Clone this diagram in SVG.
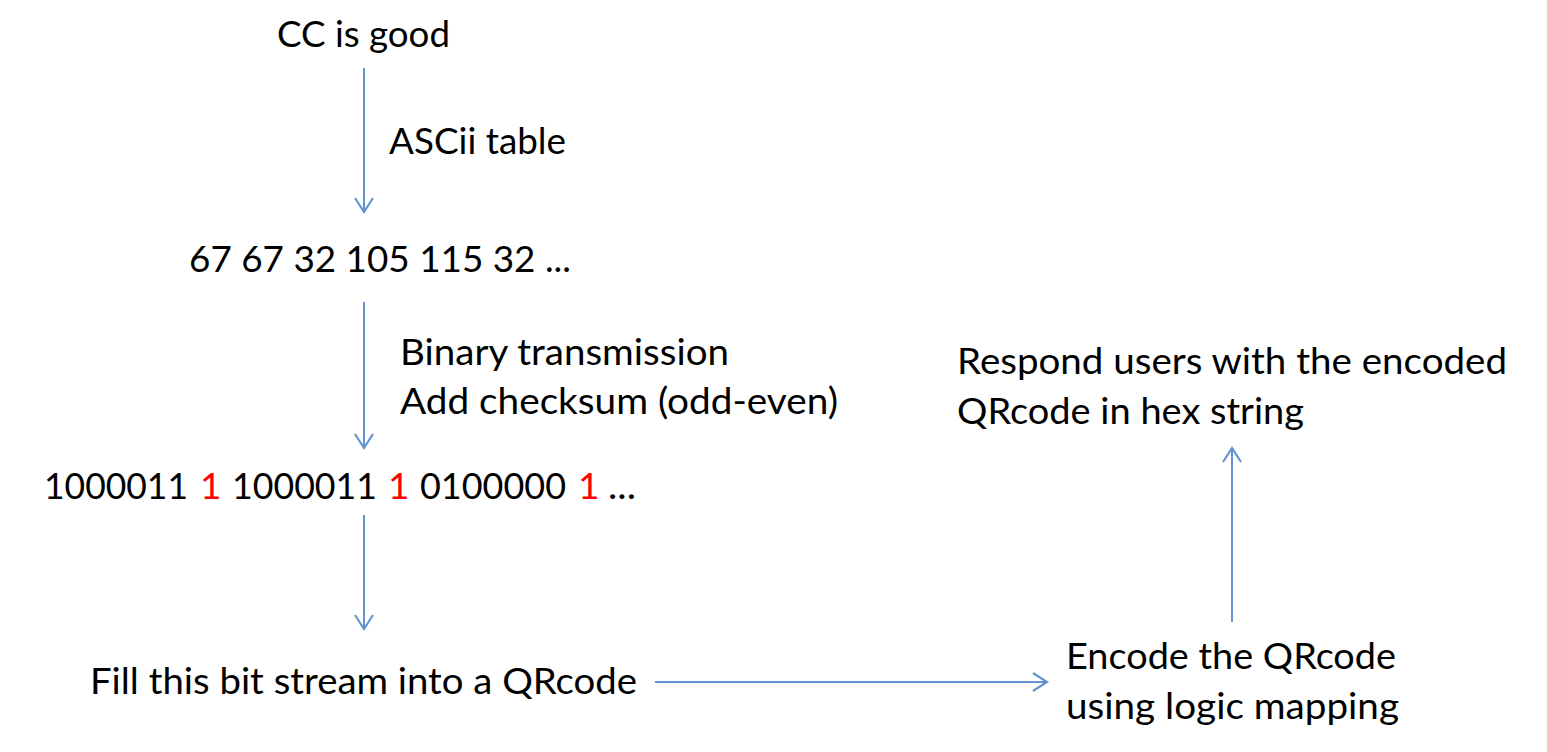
<svg xmlns="http://www.w3.org/2000/svg" width="1547" height="752" viewBox="0 0 1547 752">
<defs>
<style>
text{font-family:Lato,"Open Sans","Liberation Sans",sans-serif;font-size:37px;fill:#000}
.red{fill:#ff0000}
.conn line{stroke:#6394d0;stroke-width:2;fill:none}
</style>
<marker id="ah" markerUnits="userSpaceOnUse" markerWidth="20" markerHeight="20" viewBox="-16 -10 20 20" refX="0" refY="0" orient="auto">
<path d="M-14,-9 L0,0 L-14,9" fill="none" stroke="#6394d0" stroke-width="2.2"/>
</marker>
</defs>
<rect width="1547" height="752" fill="#fff"/>
<g id="n-cc"><text x="277" y="47" textLength="173" lengthAdjust="spacingAndGlyphs">CC is good</text></g>
<g id="l-ascii"><text x="389" y="154" textLength="177" lengthAdjust="spacingAndGlyphs">ASCii table</text></g>
<g id="n-dec"><text x="189" y="272" textLength="382" lengthAdjust="spacingAndGlyphs">67 67 32 105 115 32 ...</text></g>
<g id="l-bin">
<text x="400" y="365" textLength="329" lengthAdjust="spacingAndGlyphs">Binary transmission</text>
<text x="400" y="414" textLength="438" lengthAdjust="spacingAndGlyphs">Add checksum (odd-even)</text>
</g>
<g id="n-bits">
<text y="499"><tspan x="44" textLength="144" lengthAdjust="spacingAndGlyphs">1000011</tspan><tspan class="red" x="200">1</tspan><tspan x="232" textLength="145" lengthAdjust="spacingAndGlyphs">1000011</tspan><tspan class="red" x="388">1</tspan><tspan x="420" textLength="146" lengthAdjust="spacingAndGlyphs">0100000</tspan><tspan class="red" x="578">1</tspan><tspan x="608" textLength="28" lengthAdjust="spacingAndGlyphs">...</tspan></text>
</g>
<g id="n-fill"><text x="90" y="694" textLength="547" lengthAdjust="spacingAndGlyphs">Fill this bit stream into a QRcode</text></g>
<g id="n-encode">
<text x="1066" y="669" textLength="330" lengthAdjust="spacingAndGlyphs">Encode the QRcode</text>
<text x="1066" y="719" textLength="333" lengthAdjust="spacingAndGlyphs">using logic mapping</text>
</g>
<g id="n-respond">
<text x="957" y="374" textLength="550" lengthAdjust="spacingAndGlyphs">Respond users with the encoded</text>
<text x="957" y="424" textLength="347" lengthAdjust="spacingAndGlyphs">QRcode in hex string</text>
</g>
<g id="connectors" class="conn">
<line x1="364" y1="68" x2="364" y2="212" marker-end="url(#ah)"/>
<line x1="364" y1="302" x2="364" y2="448" marker-end="url(#ah)"/>
<line x1="364" y1="515" x2="364" y2="629" marker-end="url(#ah)"/>
<line x1="655" y1="682" x2="1047" y2="682" marker-end="url(#ah)"/>
<line x1="1232" y1="622" x2="1232" y2="448" marker-end="url(#ah)"/>
</g>
</svg>
